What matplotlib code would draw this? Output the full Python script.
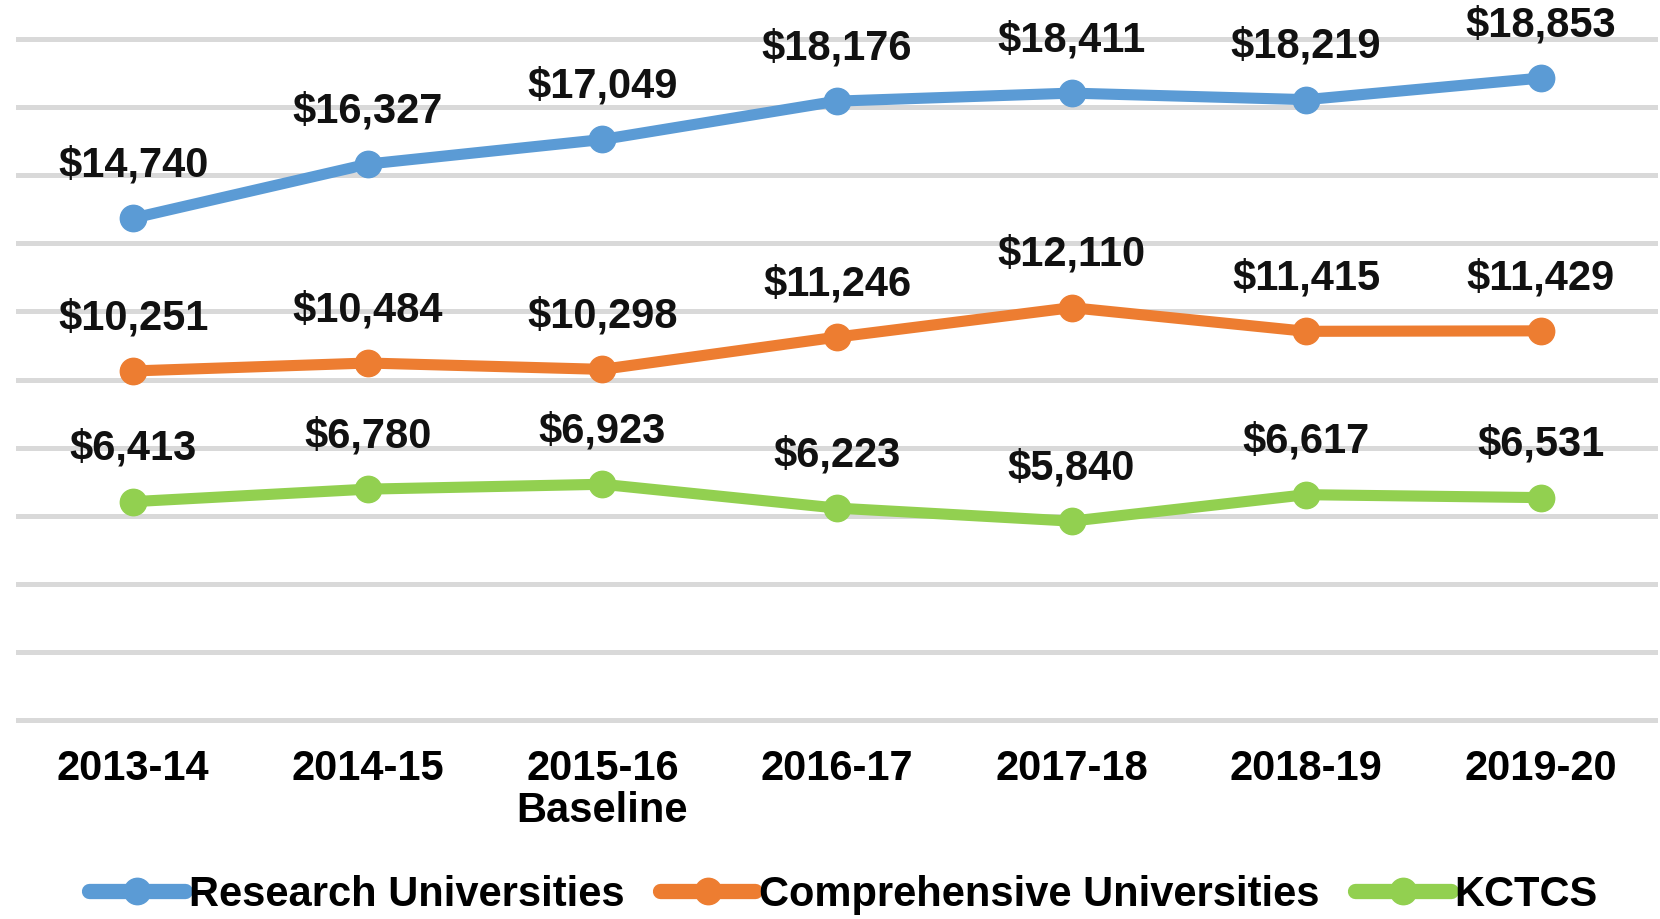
import matplotlib
matplotlib.use('Agg')
import matplotlib.pyplot as plt
from matplotlib import font_manager

years = ["2013-14", "2014-15", "2015-16\nBaseline", "2016-17", "2017-18", "2018-19", "2019-20"]
research = [14740, 16327, 17049, 18176, 18411, 18219, 18853]
comprehensive = [10251, 10484, 10298, 11246, 12110, 11415, 11429]
kctcs = [6413, 6780, 6923, 6223, 5840, 6617, 6531]
series_names = ["Research Universities", "Comprehensive Universities", "KCTCS"]
colors = ["#5B9BD5", "#ED7D31", "#92D050"]

# narrow bold font like the original, fall back if missing
names = {f.name for f in font_manager.fontManager.ttflist}
if "Liberation Sans Narrow" in names:
    fam = "Liberation Sans Narrow"
    fs = 36
else:
    fam = "Liberation Sans"
    fs = 30
plt.rcParams['font.family'] = [fam, 'DejaVu Sans']
plt.rcParams['font.weight'] = 'bold'

fig = plt.figure(figsize=(16.6, 9.19), dpi=100)
ax = fig.add_axes([16/1660, 0.2110, (1658-16)/1660, 0.9631-0.2110])

for vals, name, c in zip([research, comprehensive, kctcs], series_names, colors):
    ax.plot(range(len(years)), vals, color=c, lw=8, marker='o', markersize=19,
            label=name, solid_capstyle='round', zorder=3)
    for i, v in enumerate(vals):
        ax.annotate(f"${v:,}", (i, v), xytext=(0, 38), textcoords='offset points',
                    ha='center', va='center', fontsize=fs, fontweight='bold',
                    color='#111111', annotation_clip=False)

for g in range(0, 20001, 2000):
    ax.axhline(g, color='#d9d9d9', lw=3.6, zorder=1)

ax.set_xlim(-0.5, 6.5)
ax.set_ylim(-150, 20150)
ax.set_yticks([])
ax.set_xticks(range(len(years)))
ax.set_xticklabels(years, fontsize=fs, fontweight='bold', linespacing=1.08)
ax.tick_params(axis='x', length=0, pad=17)
for s in ax.spines.values():
    s.set_visible(False)

leg = fig.legend(loc='center', bbox_to_anchor=(0.508, 1 - 895/919), ncol=3, frameon=False,
                 handlelength=2.3, handletextpad=0.08, columnspacing=0.85,
                 borderaxespad=0, prop={'family': fam, 'weight': 'bold', 'size': fs})
for h in leg.legend_handles:
    h.set_linewidth(11)

fig.savefig('out.png', dpi=100)
